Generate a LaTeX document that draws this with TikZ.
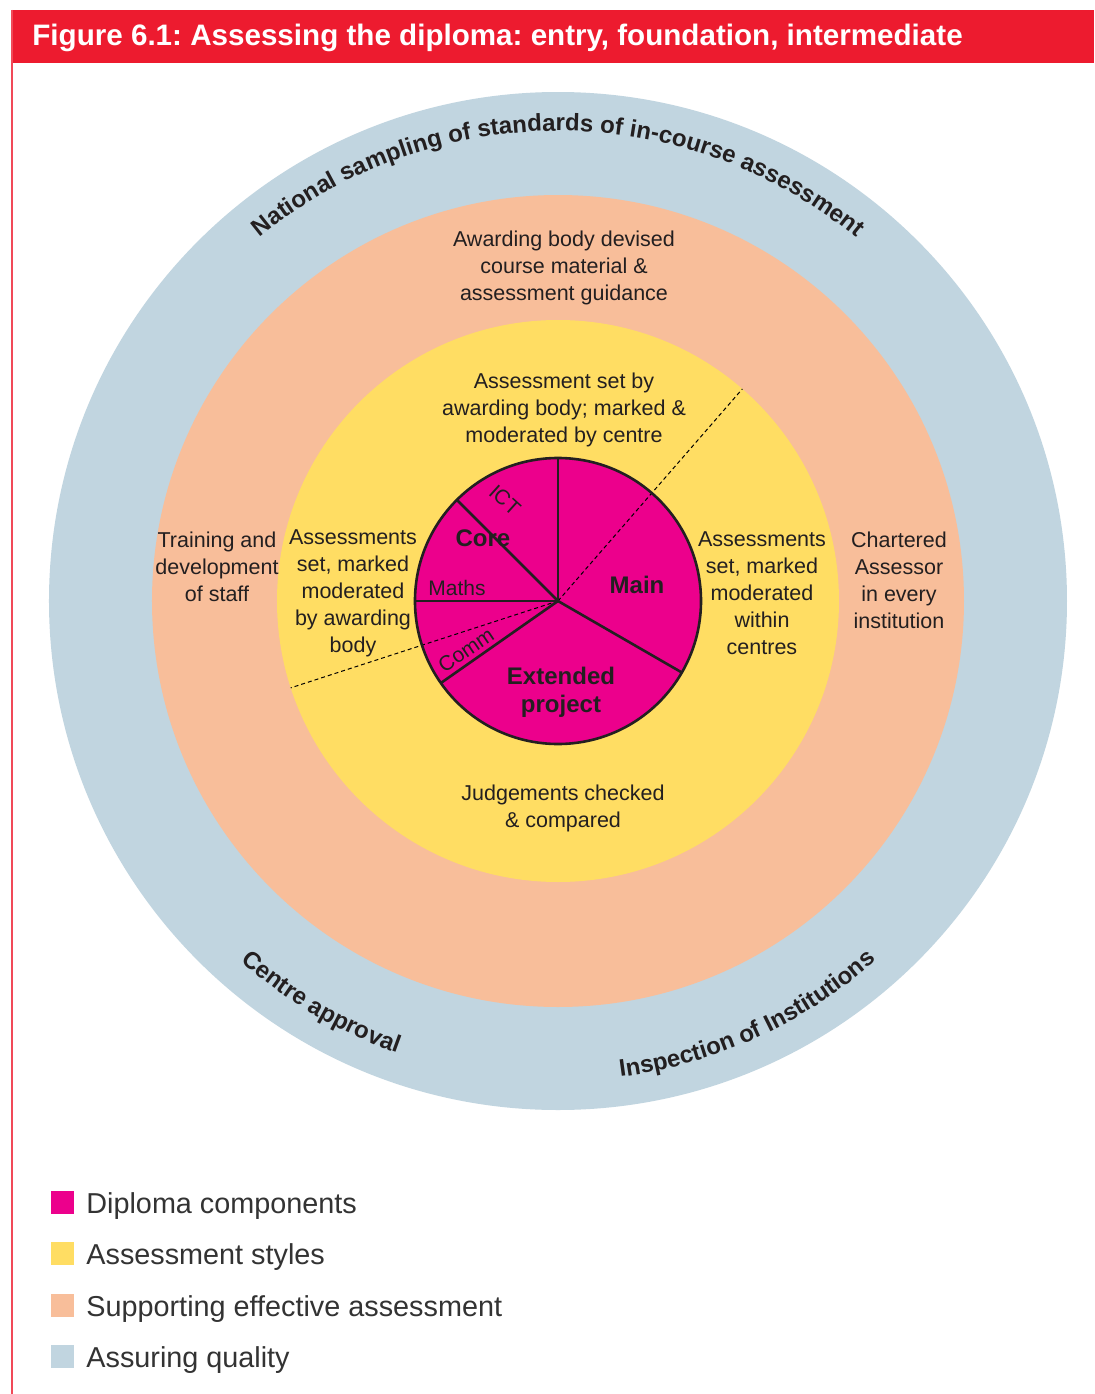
\documentclass[tikz,border=0pt]{standalone}
\usepackage{fontspec}
\setmainfont{Liberation Sans}
\frenchspacing
\usetikzlibrary{decorations.text}
\definecolor{ringblue}{HTML}{C1D5E0}
\definecolor{ringorange}{HTML}{F8BE9A}
\definecolor{ringyellow}{HTML}{FFDD63}
\definecolor{piepink}{HTML}{EC008C}
\definecolor{headred}{HTML}{ED1B2F}
\definecolor{txtdark}{HTML}{231F20}
\definecolor{legtxt}{HTML}{333333}
\tikzset{
  body/.style={font=\fontsize{10.75}{13.5}\selectfont, text=txtdark, align=center, inner sep=0pt},
  pielabel/.style={font=\bfseries\fontsize{12}{14}\selectfont, text=txtdark, align=center, inner sep=0pt},
  sublabel/.style={font=\fontsize{10.5}{12}\selectfont, text=txtdark, inner sep=0pt},
  pieline/.style={draw=txtdark, line width=1.3pt},
  dashline/.style={draw=black, line width=0.5pt, dash pattern=on 2pt off 1.5pt},
  legsq/.style={minimum size=11.5pt, inner sep=0pt, draw=none},
  legtext/.style={font=\fontsize{14.4}{16}\selectfont, text=legtxt, inner sep=0pt, anchor=base west},
}
\begin{document}
\begin{tikzpicture}[x=0.5pt,y=0.5pt]
\useasboundingbox (-558,-793) rectangle (536,601);
\fill[white] (-558,-793) rectangle (536,601);
% header
\fill[headred] (-546,591) rectangle (536,538);
\draw[headred!80, line width=0.6pt] (-546,591) -- (-546,-793);
\node[anchor=base west, inner sep=0pt, text=white, font=\bfseries\fontsize{14.8}{17}\selectfont] (title) at (-526,555) {Figure 6.1: Assessing the diploma: entry, foundation, intermediate};
% rings
\coordinate (c) at (0,0);
\fill[ringblue] (c) circle[radius=509];
\fill[ringorange] (c) circle[radius=406];
\fill[ringyellow] (c) circle[radius=281];
\fill[piepink] (c) circle[radius=143];
% dashed divisions
\coordinate (d1) at (49:281);
\coordinate (d2) at (198:281);
\draw[dashline] (c) -- (d1);
\draw[dashline] (c) -- (d2);
% pie sectors
\coordinate (p1) at (90:143);
\coordinate (p2) at (-30:143);
\coordinate (p3) at (215:143);
\coordinate (p4) at (180:143);
\coordinate (p5) at (135:143);
\draw[pieline] (c) -- (p1);
\draw[pieline] (c) -- (p2);
\draw[pieline] (c) -- (p3);
\draw[pieline] (c) -- (p4);
\draw[pieline] (c) -- (p5);
\draw[pieline] (c) circle[radius=143];
% pie labels
\node[pielabel] (main) at (79,16) {Main};
\node[pielabel] (ext) at (3,-91) {Extended\\project};
\node[pielabel] (core) at (-75,63) {Core};
\node[sublabel, rotate=-42] (ict) at (-53,101) {ICT};
\node[sublabel] (maths) at (-101,13) {Maths};
\node[sublabel, rotate=34] (comm) at (-92,-49) {Comm};
% yellow ring texts
\node[body] (ytop) at (6,191) {Assessment set by\\awarding body; marked \&\\moderated by centre};
\node[body] (yleft) at (-205,8) {Assessments\\set, marked\\moderated\\by awarding\\body};
\node[body] (yright) at (204,8) {Assessments\\set, marked\\moderated\\within\\centres};
\node[body] (ybot) at (5,-207) {Judgements checked\\\& compared};
% orange ring texts
\node[body] (otop) at (6,333) {Awarding body devised\\course material \&\\assessment guidance};
\node[body] (oleft) at (-341,34) {Training and\\development\\of staff};
\node[body] (oright) at (341,21) {Chartered\\Assessor\\in every\\institution};
% blue ring curved texts
\path[decorate, decoration={text along path, text align=center,
  text={|\bfseries\fontsize{12}{14}\selectfont\color{txtdark}|National sampling of standards of in-course assessment}}]
  (135:470) arc[start angle=135, end angle=45, radius=470];
\path[decorate, decoration={text along path, text align=center,
  text={|\bfseries\fontsize{12}{14}\selectfont\color{txtdark}|Centre approval}}]
  (209.5:480) arc[start angle=209.5, end angle=269.5, radius=480];
\path[decorate, decoration={text along path, text align=center,
  text={|\bfseries\fontsize{12}{14}\selectfont\color{txtdark}|Inspection of Institutions}}]
  (264.5:480) arc[start angle=264.5, end angle=324.5, radius=480];
% legend
\node[legsq, fill=piepink] (sq1) at (-495.5,-601) {};
\node[legsq, fill=ringyellow] (sq2) at (-495.5,-652.5) {};
\node[legsq, fill=ringorange] (sq3) at (-495.5,-704) {};
\node[legsq, fill=ringblue] (sq4) at (-495.5,-755.5) {};
\node[legtext] (lt1) at (-472,-612) {Diploma components};
\node[legtext] (lt2) at (-472,-663.5) {Assessment styles};
\node[legtext] (lt3) at (-472,-715) {Supporting effective assessment};
\node[legtext] (lt4) at (-472,-766.5) {Assuring quality};
\end{tikzpicture}
\end{document}
